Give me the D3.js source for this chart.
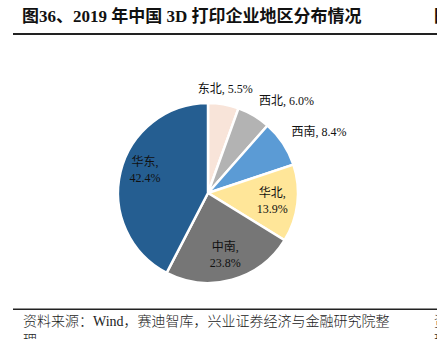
<!DOCTYPE html>
<html><head><meta charset="utf-8">
<script src="https://cdn.jsdelivr.net/npm/d3@7"></script>
<style>
html,body{margin:0;padding:0;background:#fff;}
svg{display:block;}
</style></head>
<body>
<svg id="c" width="437" height="339"></svg>
<script>
const regions = ["东北","西北","西南","华北","中南","华东"];
const shares = [5.5, 6.0, 8.4, 13.9, 23.8, 42.4];
const colors = ["#F8E4D9","#B3B3B3","#5B9BD5","#FFE699","#767676","#255E91"];
const inside = [false,false,false,true,true,true];

const svg = d3.select("#c");
const cjk = "'Liberation Serif','Noto Sans CJK SC',serif";

// title
svg.append("text").attr("x",22).attr("y",22)
  .attr("font-family",cjk).attr("font-weight","bold").attr("font-size",17)
  .attr("fill","#111").text("图36、2019 年中国 3D 打印企业地区分布情况");
svg.append("text").attr("x",434).attr("y",22)
  .attr("font-family",cjk).attr("font-weight","bold").attr("font-size",17)
  .attr("fill","#111").text("图");
svg.append("rect").attr("x",13).attr("y",33).attr("width",424).attr("height",2).attr("fill","#222");

// footer
svg.append("rect").attr("x",13).attr("y",308.5).attr("width",424).attr("height",1.5).attr("fill","#222");
svg.append("text").attr("x",23).attr("y",326)
  .attr("font-family",cjk).attr("font-weight",300).attr("font-size",14)
  .attr("fill","#222").text("资料来源：Wind，赛迪智库，兴业证券经济与金融研究院整");
svg.append("text").attr("x",23).attr("y",345)
  .attr("font-family",cjk).attr("font-weight",300).attr("font-size",14)
  .attr("fill","#222").text("理");
svg.append("text").attr("x",434).attr("y",326)
  .attr("font-family",cjk).attr("font-weight",300).attr("font-size",14)
  .attr("fill","#222").text("资");
svg.append("text").attr("x",434).attr("y",345)
  .attr("font-family",cjk).attr("font-weight",300).attr("font-size",14)
  .attr("fill","#222").text("理");

// pie
const cx = 208, cy = 193, R = 90;
const data = regions.map((r,i)=>({region:r, value:shares[i], color:colors[i], inside:inside[i]}));
const pie = d3.pie().value(d=>d.value).sort(null).startAngle(0).endAngle(2*Math.PI);
const arcs = pie(data);
const arc = d3.arc().innerRadius(0).outerRadius(R);
const g = svg.append("g").attr("transform",`translate(${cx},${cy})`);
g.selectAll("path").data(arcs).join("path")
  .attr("d",arc).attr("fill",d=>d.data.color)
  .attr("stroke","#fff").attr("stroke-width",2.5).attr("stroke-linejoin","miter");

const inArc = d3.arc().innerRadius(R*0.72).outerRadius(R*0.72);
const outArc = d3.arc().innerRadius(R+10).outerRadius(R+10);
const fs = 12;
arcs.forEach(a=>{
  const d = a.data;
  const lab = d.region + ",";
  const val = d.value.toFixed(1) + "%";
  if (d.inside) {
    let [x,y] = inArc.centroid(a);
    // large left slice: label sits a bit higher
    if (y < 0) y -= 8;
    const t = g.append("text").attr("font-family",cjk).attr("font-size",fs).attr("fill","#111")
      .attr("text-anchor","middle");
    t.append("tspan").attr("x",x).attr("y",y-4).text(lab);
    t.append("tspan").attr("x",x).attr("y",y+12).text(val);
  } else {
    const [x,y] = outArc.centroid(a);
    const mid = (a.startAngle+a.endAngle)/2;
    const anchor = mid < 0.35 ? "middle" : "start";
    g.append("text").attr("font-family",cjk).attr("font-size",fs).attr("fill","#111")
      .attr("text-anchor",anchor).attr("x",x).attr("y",y-2)
      .text(lab + " " + val);
  }
});
</script>
</body></html>
